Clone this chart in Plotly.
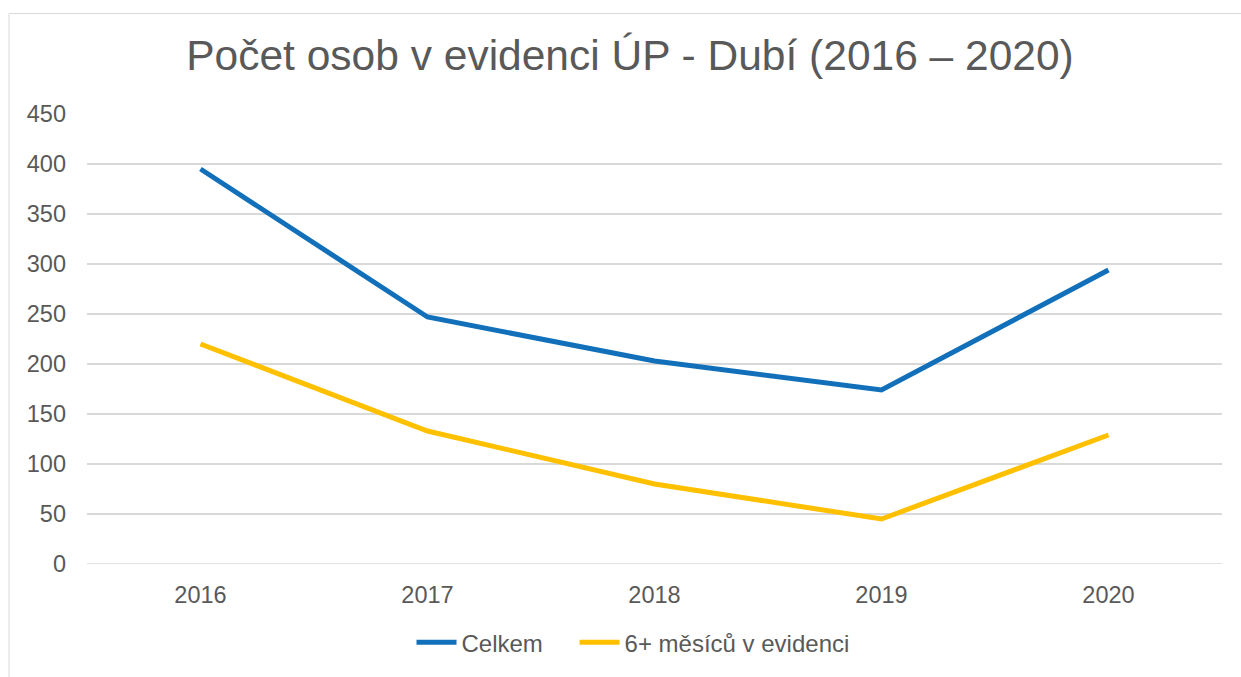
import plotly.graph_objects as go

years = ["2016", "2017", "2018", "2019", "2020"]
celkem = [395, 247, 203, 174, 294]
dlouhodobe = [220, 133, 80, 45, 129]
y_ticks = [0, 50, 100, 150, 200, 250, 300, 350, 400, 450]

W, H = 1241, 677
L, R, T, B = 87, 19, 114, 106
pw, ph = W - L - R, H - T - B

def px_x(x):
    return (x - L) / pw

def px_y(y):
    return (H - B - y) / ph

fig = go.Figure()
fig.add_trace(go.Scatter(x=years, y=celkem, mode="lines", name="Celkem\u00a0\u00a0\u00a0\u00a0",
                         line=dict(color="#1170B9", width=5)))
fig.add_trace(go.Scatter(x=years, y=dlouhodobe, mode="lines", name="6+ měsíců v evidenci",
                         line=dict(color="#FFC000", width=5)))

font_family = "Liberation Sans, Arial, sans-serif"
fig.update_layout(
    width=W, height=H, autosize=False,
    margin=dict(l=L, r=R, t=T, b=B),
    paper_bgcolor="white", plot_bgcolor="white",
    font=dict(family=font_family, color="#595959", size=23),
    title=dict(text="Počet osob v evidenci ÚP - Dubí (2016 – 2020)",
               font=dict(size=42.5, color="#595959", family=font_family),
               x=630 / W, xanchor="center", y=1 - 55 / H, yanchor="middle",
               xref="container", yref="container"),
    xaxis=dict(type="category", showgrid=False, showline=False, zeroline=False,
               ticks="", tickfont=dict(size=23.5, color="#595959"), ticklabelstandoff=14,
               range=[-0.5, 4.5]),
    yaxis=dict(range=[0, 450], tickvals=y_ticks, showgrid=True, gridcolor="#D9D9D9",
               gridwidth=1.5, zeroline=False, showline=False, ticks="",
               tickfont=dict(size=23.5, color="#595959"), ticklabelstandoff=20),
    legend=dict(orientation="h", x=px_x(633), xanchor="center", y=px_y(651), yanchor="middle",
                font=dict(size=24, color="#595959"), itemwidth=40, traceorder="normal"),
    showlegend=True,
)
fig.add_hline(y=0, line=dict(color="#D9D9D9", width=1.5), layer="below")

fig.add_shape(type="line", xref="paper", yref="paper",
              x0=px_x(9), x1=px_x(1245), y0=px_y(12), y1=px_y(12),
              line=dict(color="#D9D9D9", width=1))
fig.add_shape(type="line", xref="paper", yref="paper",
              x0=px_x(9), x1=px_x(9), y0=px_y(12), y1=px_y(690),
              line=dict(color="#D9D9D9", width=1))

fig.write_html("out.html", config={"displayModeBar": False},
               post_script="document.body.style.margin='0';document.body.style.overflow='hidden';")
